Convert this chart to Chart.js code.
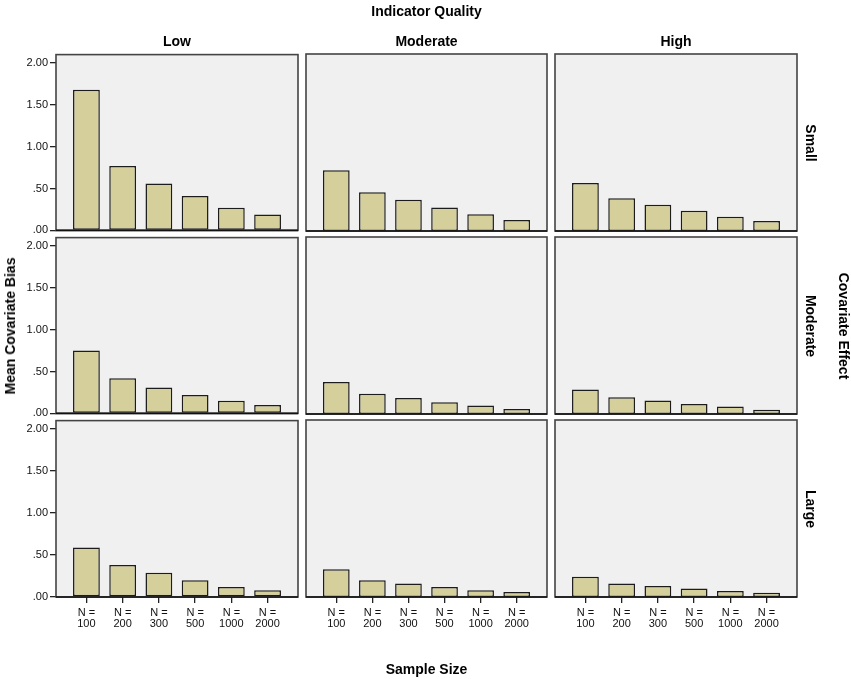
<!DOCTYPE html>
<html>
<head>
<meta charset="utf-8">
<script src="https://cdn.jsdelivr.net/npm/chart.js@4/dist/chart.umd.min.js"></script>
<style>
  html, body { margin: 0; padding: 0; background: #fff; }
  #wrap { position: relative; width: 851px; height: 679px; overflow: hidden; font-family: "Liberation Sans", Arial, sans-serif; }
  canvas { position: absolute; }
  .lbl { position: absolute; transform: translate(-50%, -50%); white-space: nowrap; font-weight: bold; font-size: 14px; color: #000; }
  .rot90 { transform: translate(-50%, -50%) rotate(90deg); }
  .rotm90 { transform: translate(-50%, -50%) rotate(-90deg); }
</style>
</head>
<body>
<div id="wrap"></div>
<script>
// ---- data ----
const sampleSizes = ['100', '200', '300', '500', '1000', '2000'];
const qualityLevels = ['Low', 'Moderate', 'High'];
const effectLevels = ['Small', 'Moderate', 'Large'];
const yTickValues = [0, 0.5, 1.0, 1.5, 2.0];

const smallLow      = [1.68, 0.77, 0.56, 0.41, 0.27, 0.19];
const smallModerate = [0.72, 0.46, 0.37, 0.28, 0.20, 0.13];
const smallHigh     = [0.57, 0.39, 0.31, 0.24, 0.17, 0.12];
const moderateLow      = [0.75, 0.42, 0.31, 0.22, 0.15, 0.10];
const moderateModerate = [0.38, 0.24, 0.19, 0.14, 0.10, 0.06];
const moderateHigh     = [0.29, 0.20, 0.16, 0.12, 0.09, 0.05];
const largeLow      = [0.59, 0.38, 0.29, 0.20, 0.12, 0.08];
const largeModerate = [0.33, 0.20, 0.16, 0.12, 0.08, 0.06];
const largeHigh     = [0.24, 0.16, 0.13, 0.10, 0.07, 0.05];

const panelValues = [
  [smallLow, smallModerate, smallHigh],
  [moderateLow, moderateModerate, moderateHigh],
  [largeLow, largeModerate, largeHigh]
];

// ---- layout ----
const colLeft = [56, 306, 555];
const colWidth = [242, 241, 242];
const rowTop = [54, 237, 420];
const rowHeight = [177, 177, 177];
const P = 8;      // canvas padding around the plot area
const YW = 44;    // y-axis width (left column)
const XH = 34;    // x-axis height (bottom row)

const wrap = document.getElementById('wrap');
const FONT = '"Liberation Sans", Arial, sans-serif';

const panelPlugin = {
  id: 'panelFrame',
  beforeDraw(chart) {
    const a = chart.chartArea, c = chart.ctx;
    c.save();
    c.fillStyle = '#f0f0f0';
    c.fillRect(a.left, a.top, a.right - a.left, a.bottom - a.top);
    c.restore();
  },
  afterDraw(chart) {
    const a = chart.chartArea, c = chart.ctx;
    c.save();
    c.strokeStyle = '#444';
    c.lineWidth = 1.6;
    c.strokeRect(a.left, a.top, a.right - a.left, a.bottom - a.top);
    c.beginPath();
    c.strokeStyle = '#111';
    c.lineWidth = 1.6;
    c.moveTo(a.left, a.bottom);
    c.lineTo(a.right, a.bottom);
    c.stroke();
    c.restore();
  }
};

for (let r = 0; r < 3; r++) {
  for (let col = 0; col < 3; col++) {
    const showY = col === 0;
    const showX = r === 2;
    const cv = document.createElement('canvas');
    const w = colWidth[col] + 2 * P + (showY ? YW : 0);
    const h = rowHeight[r] + 2 * P + (showX ? XH : 0);
    cv.width = w; cv.height = h;
    cv.style.width = w + 'px'; cv.style.height = h + 'px';
    cv.style.left = (colLeft[col] - P - (showY ? YW : 0)) + 'px';
    cv.style.top = (rowTop[r] - P) + 'px';
    wrap.appendChild(cv);

    const vals = panelValues[r][col];
    new Chart(cv, {
      type: 'bar',
      data: {
        datasets: [{
          data: vals.map((v, i) => ({ x: i, y: v })),
          backgroundColor: 'rgb(213,208,155)',
          borderColor: '#1c1c1c',
          borderWidth: 1.5,
          borderSkipped: false,
          barPercentage: 0.74,
          categoryPercentage: 1.0
        }]
      },
      options: {
        responsive: false,
        animation: false,
        devicePixelRatio: 1,
        layout: { padding: P },
        plugins: { legend: { display: false }, tooltip: { enabled: false } },
        scales: {
          x: {
            type: 'linear',
            min: -0.84,
            max: 5.84,
            offset: false,
            display: showX,
            afterFit(s) { s.height = showX ? XH : 0; },
            afterBuildTicks(s) { s.ticks = sampleSizes.map((_, i) => ({ value: i })); },
            grid: { display: true, offset: false, drawOnChartArea: false, drawTicks: true, tickLength: 6, color: '#222', lineWidth: 1.3 },
            border: { display: false },
            ticks: {
              autoSkip: false,
              maxRotation: 0,
              padding: 4,
              color: '#111',
              font: { family: FONT, size: 11, lineHeight: 1.0 },
              callback: (v) => ['N =', sampleSizes[Math.round(v)]]
            }
          },
          y: {
            type: 'linear',
            min: 0,
            max: 2.1,
            display: showY,
            afterFit(s) { s.width = showY ? YW : 0; },
            afterBuildTicks(s) { s.ticks = yTickValues.map(v => ({ value: v })); },
            grid: { display: true, drawOnChartArea: false, drawTicks: true, tickLength: 6, color: '#222', lineWidth: 1.3 },
            border: { display: false },
            ticks: {
              padding: 2,
              color: '#111',
              font: { family: FONT, size: 11 },
              callback: (v) => v.toFixed(2).replace(/^0/, '')
            }
          }
        }
      },
      plugins: [panelPlugin]
    });
  }
}

// ---- text labels ----
function addLabel(text, x, y, cls) {
  const d = document.createElement('div');
  d.className = 'lbl' + (cls ? ' ' + cls : '');
  d.textContent = text;
  d.style.left = x + 'px';
  d.style.top = y + 'px';
  wrap.appendChild(d);
}
addLabel('Indicator Quality', 426.5, 11);
for (let c = 0; c < 3; c++) addLabel(qualityLevels[c], colLeft[c] + colWidth[c] / 2, 41);
for (let r = 0; r < 3; r++) addLabel(effectLevels[r], 811, rowTop[r] + rowHeight[r] / 2, 'rot90');
addLabel('Covariate Effect', 844, 325.5, 'rot90');
addLabel('Mean Covariate Bias', 10, 325.5, 'rotm90');
addLabel('Sample Size', 426.5, 669);
</script>
</body>
</html>
